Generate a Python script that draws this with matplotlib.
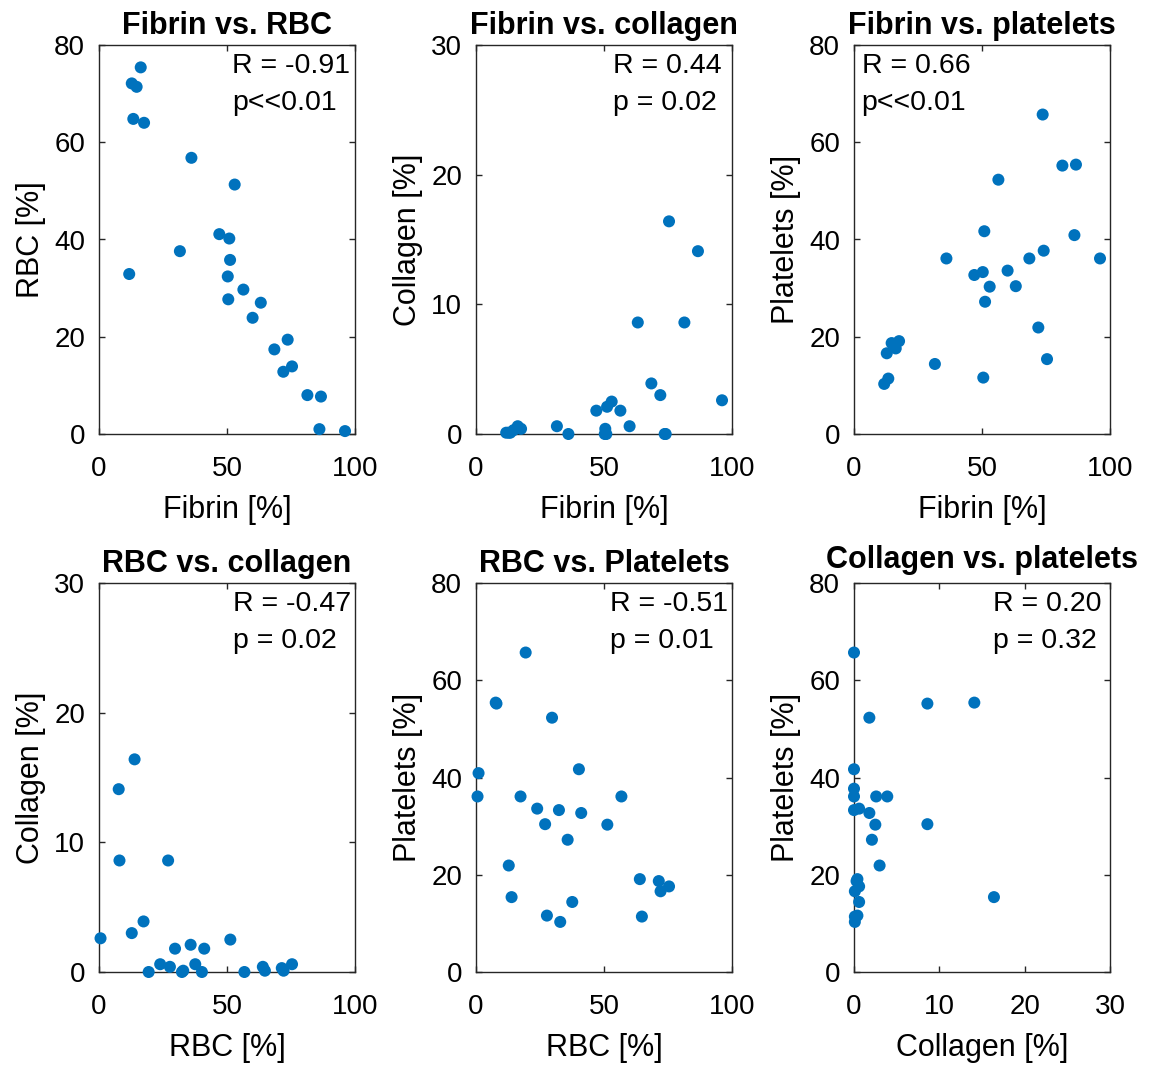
import matplotlib
matplotlib.use("Agg")
import matplotlib.pyplot as plt
import numpy as np

# one value per sample; nan = not measured
fibrin = [16.3, 12.8, 14.7, 13.4, 17.6, 11.8, 36.1, 53.0, 47.0, 50.9, 31.6, 51.2, 50.3,
          56.4, 50.5, 63.2, 60.0, 73.7, 68.5, 75.4, 72.0, 81.4, 86.7, 86.1, 96.1, 74.1]
rbc = [75.4, 72.1, 71.4, 64.8, 64.0, 32.9, 56.8, 51.3, 41.1, 40.2, 37.6, 35.8, 32.4,
       29.7, 27.7, 27.0, 23.9, 19.4, 17.4, 13.9, 12.8, 8.0, 7.7, 1.0, 0.6, np.nan]
collagen = [0.6, 0.1, 0.3, 0.1, 0.4, 0.1, 0.0, 2.5, 1.8, 0.0, 0.6, 2.1, 0.0,
            1.8, 0.4, 8.6, 0.6, 0.0, 3.9, 16.4, 3.0, 8.6, 14.1, np.nan, 2.6, 0.0]
platelets = [17.6, 16.6, 18.7, 11.4, 19.1, 10.3, 36.1, 30.3, 32.7, 41.7, 14.4, 27.2, 33.3,
             52.3, 11.6, 30.4, 33.6, 65.7, 36.1, 15.4, 21.9, 55.2, 55.4, 40.9, 36.1, 37.7]

titles = ["Fibrin vs. RBC", "Fibrin vs. collagen", "Fibrin vs. platelets",
          "RBC vs. collagen", "RBC vs. Platelets", "Collagen vs. platelets"]
r_text = ["R = -0.91", "R = 0.44", "R = 0.66", "R = -0.47", "R = -0.51", "R = 0.20"]
p_text = ["p<<0.01", "p = 0.02", "p<<0.01", "p = 0.02", "p = 0.01", "p = 0.32"]

plt.rcParams['font.family'] = ['Liberation Sans', 'DejaVu Sans']
blue = '#0072BD'

panels = [
    (fibrin, rbc, "Fibrin [%]", "RBC [%]", 100, 80),
    (fibrin, collagen, "Fibrin [%]", "Collagen [%]", 100, 30),
    (fibrin, platelets, "Fibrin [%]", "Platelets [%]", 100, 80),
    (rbc, collagen, "RBC [%]", "Collagen [%]", 100, 30),
    (rbc, platelets, "RBC [%]", "Platelets [%]", 100, 80),
    (collagen, platelets, "Collagen [%]", "Platelets [%]", 30, 80),
]

W, H = 1162, 1065
fig = plt.figure(figsize=(W / 100, H / 100), dpi=100)
lefts = [99, 476, 854]
tops = [45, 583]
text_x = [0.52, 0.537, 0.03, 0.523, 0.525, 0.543]

for i, (x, y, xl, yl, xmax, ymax) in enumerate(panels):
    left = lefts[i % 3]
    top = tops[i // 3]
    ax = fig.add_axes([left / W, 1 - (top + 389) / H, 256 / W, 389 / H])
    ax.scatter(x, y, s=75, color=blue, edgecolors='none', clip_on=False, zorder=3)
    ax.set_xlim(0, xmax)
    ax.set_ylim(0, ymax)
    ax.set_xticks(np.arange(0, xmax + 1, 50 if xmax == 100 else 10))
    ax.set_yticks(np.arange(0, ymax + 1, 20 if ymax == 80 else 10))
    ax.tick_params(direction='in', length=4, width=1, top=True, right=True,
                   labelsize=20, color='#262626')
    ax.tick_params(axis='x', pad=16)
    ax.tick_params(axis='y', pad=10)
    for sp in ax.spines.values():
        sp.set_color('#262626')
        sp.set_linewidth(1)
    ax.set_xlabel(xl, fontsize=22, labelpad=9)
    ax.set_ylabel(yl, fontsize=22, labelpad=6)
    # the last title is wide and sits over the "80" tick label, lift it a bit
    ax.set_title(titles[i], fontsize=22, fontweight='bold', pad=11 if i == 5 else 8)
    ax.text(text_x[i], 0.945, r_text[i], transform=ax.transAxes, fontsize=20.5,
            ha='left', va='center')
    ax.text(text_x[i], 0.852, p_text[i], transform=ax.transAxes, fontsize=20.5,
            ha='left', va='center')

fig.savefig("out.png", dpi=100)
plt.close()
